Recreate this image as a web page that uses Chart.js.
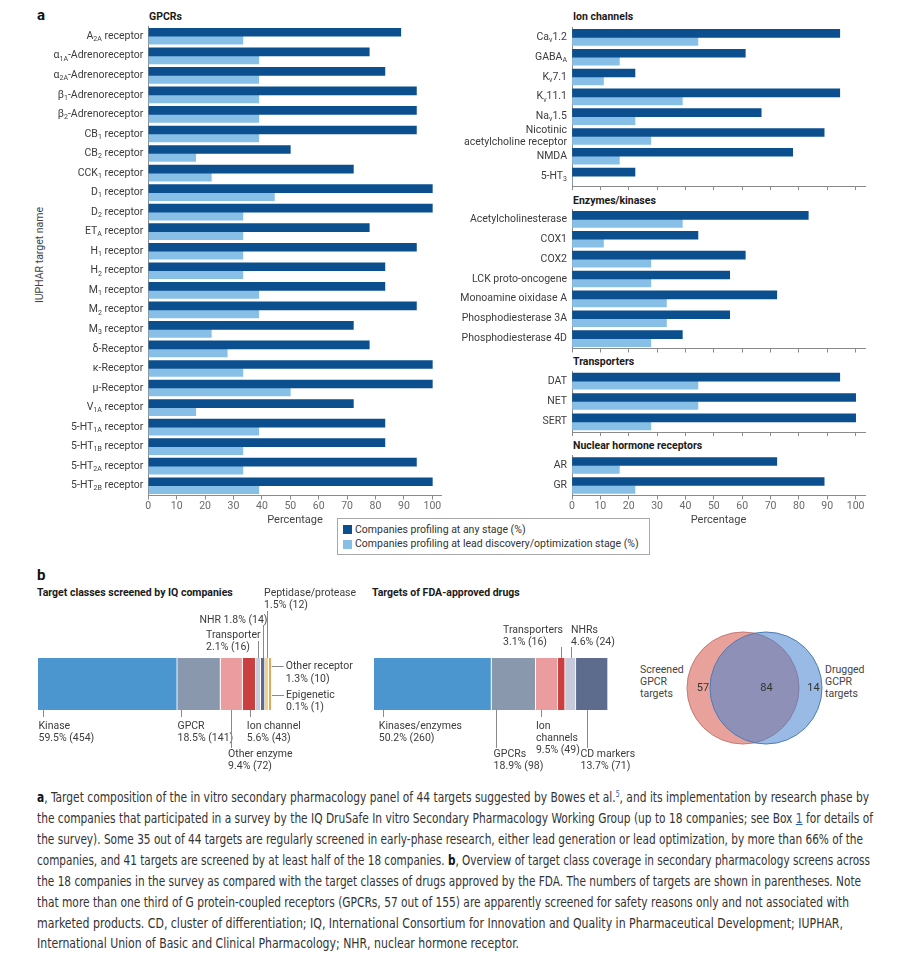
<!DOCTYPE html>
<html>
<head>
<meta charset="utf-8">
<script src="https://cdn.jsdelivr.net/npm/chart.js@4.4.0/dist/chart.umd.min.js"></script>
<style>
body { margin: 0; background: #fff; width: 911px; height: 959px; position: relative; overflow: hidden; font-family: Roboto, 'Liberation Sans', sans-serif; color: #333; }
canvas { position: absolute; }
.t { position: absolute; white-space: nowrap; font-size: 10.5px; line-height: 12px; color: #444; }
.h { position: absolute; white-space: nowrap; font-size: 10.5px; line-height: 12px; font-weight: 700; color: #1a1a1a; }
.big { position: absolute; font-size: 15px; line-height: 16px; font-weight: 700; color: #111; }
.legend { position: absolute; left: 337px; top: 518px; width: 313px; height: 37px; box-sizing: border-box; border: 1px solid #a8a8a8; }
.sw { position: absolute; width: 9px; height: 9px; }
.cap { position: absolute; left: 37px; white-space: nowrap; font-family: 'Liberation Sans Narrow', 'DejaVu Sans Condensed', 'Roboto Condensed', sans-serif; font-stretch: condensed; font-size: 14px; line-height: 16px; color: #333; transform-origin: 0 50%; }
.cap b { color: #111; }
.cap .lnk { color: #2a5db0; }
.cap .sup { position: relative; top: -5px; font-size: 8px; line-height: 0; }
</style>
</head>
<body>

<div class="big" style="left:37px;top:7px">a</div>
<div class="h" style="left:149px;top:11px">GPCRs</div>
<div class="h" style="left:573px;top:11px">Ion channels</div>
<div class="h" style="left:573px;top:195px">Enzymes/kinases</div>
<div class="h" style="left:573px;top:356px">Transporters</div>
<div class="h" style="left:573px;top:440px">Nuclear hormone receptors</div>
<div class="t" style="left:40px;top:255px;transform:translate(-50%,-50%) rotate(-90deg)">IUPHAR target name</div>
<div class="legend" id="legend"></div>

<div class="big" style="left:37px;top:567px">b</div>
<div class="h" style="left:37px;top:587px">Target classes screened by IQ companies</div>
<div class="h" style="left:372px;top:587px">Targets of FDA-approved drugs</div>
<div class="t" style="left:640px;top:664px;line-height:12px">Screened<br>GPCR<br>targets</div>
<div class="t" style="left:825px;top:664px;line-height:12px">Drugged<br>GCPR<br>targets</div>

<div class="cap" data-w="832" style="top:789px"><b>a</b>, Target composition of the in vitro secondary pharmacology panel of 44 targets suggested by Bowes et al.<span class="lnk sup">5</span>, and its implementation by research phase by</div>
<div class="cap" data-w="836" style="top:810px">the companies that participated in a survey by the IQ DruSafe In vitro Secondary Pharmacology Working Group (up to 18 companies; see Box <u class="lnk">1</u> for details of</div>
<div class="cap" data-w="826" style="top:831px">the survey). Some 35 out of 44 targets are regularly screened in early-phase research, either lead generation or lead optimization, by more than 66% of the</div>
<div class="cap" data-w="833" style="top:852px">companies, and 41 targets are screened by at least half of the 18 companies. <b>b</b>, Overview of target class coverage in secondary pharmacology screens across</div>
<div class="cap" data-w="824" style="top:873px">the 18 companies in the survey as compared with the target classes of drugs approved by the FDA. The numbers of targets are shown in parentheses. Note</div>
<div class="cap" data-w="812" style="top:894px">that more than one third of G protein-coupled receptors (GPCRs, 57 out of 155) are apparently screened for safety reasons only and not associated with</div>
<div class="cap" data-w="806" style="top:915px">marketed products. CD, cluster of differentiation; IQ, International Consortium for Innovation and Quality in Pharmaceutical Development; IUPHAR,</div>
<div class="cap" data-w="482" style="top:935px">International Union of Basic and Clinical Pharmacology; NHR, nuclear hormone receptor.</div>

<script>
Chart.defaults.font.family = 'Roboto';

// ---- panel a data (percent of 18 companies) ----
const seriesNames = ['Companies profiling at any stage (%)', 'Companies profiling at lead discovery/optimization stage (%)'];

const gpcrTargets = ['A_{2A} receptor', 'α_{1A}-Adrenoreceptor', 'α_{2A}-Adrenoreceptor', 'β_{1}-Adrenoreceptor', 'β_{2}-Adrenoreceptor',
  'CB_{1} receptor', 'CB_{2} receptor', 'CCK_{1} receptor', 'D_{1} receptor', 'D_{2} receptor', 'ET_{A} receptor', 'H_{1} receptor',
  'H_{2} receptor', 'M_{1} receptor', 'M_{2} receptor', 'M_{3} receptor', 'δ-Receptor', 'κ-Receptor', 'μ-Receptor', 'V_{1A} receptor',
  '5-HT_{1A} receptor', '5-HT_{1B} receptor', '5-HT_{2A} receptor', '5-HT_{2B} receptor'];
const gpcrAny  = [88.9, 77.8, 83.3, 94.4, 94.4, 94.4, 50, 72.2, 100, 100, 77.8, 94.4, 83.3, 83.3, 94.4, 72.2, 77.8, 100, 100, 72.2, 83.3, 83.3, 94.4, 100];
const gpcrLead = [33.3, 38.9, 38.9, 38.9, 38.9, 38.9, 16.7, 22.2, 44.4, 33.3, 33.3, 33.3, 33.3, 38.9, 38.9, 22.2, 27.8, 33.3, 50, 16.7, 38.9, 33.3, 33.3, 38.9];

const ionTargets = ['Ca_{v}1.2', 'GABA_{A}', 'K_{v}7.1', 'K_{v}11.1', 'Na_{v}1.5', 'Nicotinic\nacetylcholine receptor', 'NMDA', '5-HT_{3}'];
const ionAny  = [94.4, 61.1, 22.2, 94.4, 66.7, 88.9, 77.8, 22.2];
const ionLead = [44.4, 16.7, 11.1, 38.9, 22.2, 27.8, 16.7, 0];

const enzTargets = ['Acetylcholinesterase', 'COX1', 'COX2', 'LCK proto-oncogene', 'Monoamine oixidase A', 'Phosphodiesterase 3A', 'Phosphodiesterase 4D'];
const enzAny  = [83.3, 44.4, 61.1, 55.6, 72.2, 55.6, 38.9];
const enzLead = [38.9, 11.1, 27.8, 27.8, 33.3, 33.3, 27.8];

const trTargets = ['DAT', 'NET', 'SERT'];
const trAny  = [94.4, 100, 100];
const trLead = [44.4, 44.4, 27.8];

const nhrTargets = ['AR', 'GR'];
const nhrAny  = [72.2, 88.9];
const nhrLead = [16.7, 22.2];

const pctTicks = [0, 10, 20, 30, 40, 50, 60, 70, 80, 90, 100];

// ---- panel b data ----
const iqClasses = ['Kinase', 'GPCR', 'Other enzyme', 'Ion channel', 'Transporter', 'NHR', 'Peptidase/protease', 'Other receptor', 'Epigenetic'];
const iqCounts  = [454, 141, 72, 43, 16, 14, 12, 10, 1];
const iqPct     = [59.5, 18.5, 9.4, 5.6, 2.1, 1.8, 1.5, 1.3, 0.1];

const fdaClasses = ['Kinases/enzymes', 'GPCRs', 'Ion channels', 'Transporters', 'NHRs', 'CD markers'];
const fdaCounts  = [260, 98, 49, 16, 24, 71];
const fdaPct     = [50.2, 18.9, 9.5, 3.1, 4.6, 13.7];

const vennCounts = [57, 84, 14]; // screened only, both, drugged only

// ---- styles ----
const darkBlue = '#0b4f8f', lightBlue = '#87bfe7', axisGrey = '#8a8a8a';
const iqColors  = ['#4c96cf', '#8a98ae', '#ea9c9e', '#c9403f', '#c6cadb', '#5d6b8c', '#f3d27c', '#e4a95e', '#b5743e'];
const fdaColors = ['#4c96cf', '#8a98ae', '#ea9c9e', '#c9403f', '#c6cadb', '#5d6b8c'];

function addCanvas(b) {
    const c = document.createElement('canvas');
    c.width = b.w; c.height = b.h;
    c.style.left = b.x + 'px'; c.style.top = b.y + 'px';
    c.style.width = b.w + 'px'; c.style.height = b.h + 'px';
    document.body.appendChild(c);
    return c;
}

// text with _{sub} markup, right aligned at xr
function drawRich(ctx, text, xr, y) {
    const parts = text.split(/(_\{[^}]*\})/).filter(s => s.length).map(s =>
        s.startsWith('_{') ? { t: s.slice(2, -1), sub: true } : { t: s, sub: false });
    const fMain = '10.5px Roboto', fSub = '7px Roboto';
    let w = 0;
    parts.forEach(p => { ctx.font = p.sub ? fSub : fMain; p.w = ctx.measureText(p.t).width; w += p.w; });
    let x = xr - w;
    ctx.textAlign = 'left';
    ctx.textBaseline = 'middle';
    parts.forEach(p => {
        ctx.font = p.sub ? fSub : fMain;
        ctx.fillText(p.t, x, p.sub ? y + 3 : y);
        x += p.w;
    });
}

const yLabels = {
    id: 'yLabels',
    afterDraw(chart) {
        const { ctx, chartArea } = chart;
        const ys = chart.scales.y;
        ctx.save();
        ctx.fillStyle = '#3c3c3c';
        chart.data.labels.forEach((lab, i) => {
            const yc = ys.getPixelForValue(i);
            const lines = lab.split('\n');
            lines.forEach((ln, k) => drawRich(ctx, ln, chartArea.left - 5, yc + (k - (lines.length - 1) / 2) * 12));
        });
        ctx.restore();
    }
};

function barPanel(box, area, cats, anyVals, leadVals, withTicks) {
    const c = addCanvas(box);
    return new Chart(c, {
        type: 'bar',
        data: {
            labels: cats,
            datasets: [
                { label: seriesNames[0], data: anyVals, backgroundColor: darkBlue, barThickness: 8 },
                { label: seriesNames[1], data: leadVals, backgroundColor: lightBlue, barThickness: 8 }
            ]
        },
        options: {
            indexAxis: 'y',
            responsive: false,
            animation: false,
            layout: { autoPadding: false, padding: { left: area.l - box.x, right: box.x + box.w - area.r, top: area.t - box.y, bottom: 0 } },
            plugins: { legend: { display: false }, tooltip: { enabled: false } },
            scales: {
                x: {
                    min: 0, max: 103.3,
                    afterBuildTicks: a => { a.ticks = pctTicks.map(v => ({ value: v })); },
                    afterFit: s => { s.height = box.y + box.h - area.b; },
                    ticks: { display: withTicks, padding: 1, color: '#6a6a6a', font: { size: 10.5 } },
                    grid: { drawOnChartArea: false, drawTicks: true, tickLength: 4, color: axisGrey },
                    border: { color: axisGrey },
                    title: { display: withTicks, text: 'Percentage', color: '#444', font: { size: 11 }, padding: { top: 0, bottom: 3 } }
                },
                y: {
                    afterFit: s => { s.width = 0; },
                    ticks: { display: false },
                    grid: { display: false },
                    border: { color: axisGrey }
                }
            }
        },
        plugins: [yLabels]
    });
}

barPanel({ x: 0, y: 0, w: 450, h: 530 }, { l: 148.3, r: 441.7, t: 26.5, b: 495.5 }, gpcrTargets, gpcrAny, gpcrLead, true);
barPanel({ x: 450, y: 20, w: 461, h: 172 }, { l: 572, r: 865, t: 27.5, b: 186 }, ionTargets, ionAny, ionLead, false);
barPanel({ x: 450, y: 205, w: 461, h: 150 }, { l: 572, r: 865, t: 209.5, b: 348.5 }, enzTargets, enzAny, enzLead, false);
barPanel({ x: 450, y: 366, w: 461, h: 72 }, { l: 572, r: 865, t: 371, b: 432 }, trTargets, trAny, trLead, false);
barPanel({ x: 450, y: 450, w: 461, h: 80 }, { l: 572, r: 865, t: 455.5, b: 495.5 }, nhrTargets, nhrAny, nhrLead, true);

// legend built from the series
const lg = document.getElementById('legend');
[darkBlue, lightBlue].forEach((col, i) => {
    const sw = document.createElement('div');
    sw.className = 'sw';
    sw.style.cssText = `left:5px;top:${6 + i * 15}px;background:${col}`;
    lg.appendChild(sw);
    const tx = document.createElement('div');
    tx.className = 't';
    tx.style.cssText = `left:17px;top:${5 + i * 13.5}px;color:#333`;
    tx.textContent = seriesNames[i];
    lg.appendChild(tx);
});

// ---- stacked bars with call-out labels ----
// leader: dx from segment start ('c' = centre), y1/y2 relative to bar top; text: dx from leader, ty = first line centre
const iqNotes = [
    { seg: 0, dx: 4.7, y1: 52, y2: 59, tdx: -5, ty: 68, form: 2 },
    { seg: 1, dx: 3.5, y1: 52, y2: 59, tdx: -4, ty: 68, form: 2 },
    { seg: 2, dx: 10.3, y1: 52, y2: 90, tdx: -3.4, ty: 96, form: 2 },
    { seg: 3, dx: 7.2, y1: 52, y2: 59, tdx: -3.7, ty: 68, form: 2 },
    { seg: 4, dx: 'c', y1: -17, y2: 0, tdx: -52.4, ty: -23, form: 2 },
    { seg: 5, dx: 'c', y1: -33, y2: 0, tdx: -64, ty: -38, form: 1 },
    { seg: 6, dx: 'c', y1: -47, y2: 0, tdx: -3.4, ty: -64.5, form: 2 },
    { seg: 7, side: 'right', y: 8, tx: 14, ty: 8.7, form: 2 },
    { seg: 8, side: 'right', y: 37, tx: 14, ty: 37, form: 2 }
];
const fdaNotes = [
    { seg: 0, dx: 9, y1: 52, y2: 59, tdx: -4.7, ty: 68, form: 2 },
    { seg: 1, dx: 4.2, y1: 52, y2: 90, tdx: -2.9, ty: 96, form: 2 },
    { seg: 2, dx: 5, y1: 52, y2: 59, tdx: -5.6, ty: 68, form: 3 },
    { seg: 3, dx: 'c', y1: -11, y2: 0, tdx: -58.4, ty: -28, form: 2 },
    { seg: 4, dx: 'c', y1: -11, y2: 0, tdx: -0.5, ty: -28, form: 2 },
    { seg: 5, dx: 11, y1: 52, y2: 90, tdx: -7, ty: 96, form: 2 }
];

const callouts = {
    id: 'callouts',
    afterDraw(chart, args, opts) {
        const { ctx, chartArea } = chart;
        const xs = chart.scales.x;
        const counts = chart.data.datasets.map(d => d.data[0]);
        const top = chartArea.top;
        ctx.save();
        ctx.strokeStyle = '#8a8a8a';
        ctx.lineWidth = 1;
        ctx.fillStyle = '#3c3c3c';
        ctx.font = '10.5px Roboto';
        ctx.textBaseline = 'middle';
        ctx.textAlign = 'left';
        opts.notes.forEach(n => {
            let cum = 0;
            for (let i = 0; i < n.seg; i++) cum += counts[i];
            const x0 = xs.getPixelForValue(cum), x1 = xs.getPixelForValue(cum + counts[n.seg]);
            const name = chart.data.datasets[n.seg].label;
            const val = `${opts.pct[n.seg]}% (${counts[n.seg]})`;
            let lines = n.form === 1 ? [name + ' ' + val] : [name, val];
            if (n.form === 3) lines = name.split(' ').concat([val]);
            let tx, ty;
            ctx.beginPath();
            if (n.side === 'right') {
                ctx.moveTo(x1, top + n.y + 0.5);
                ctx.lineTo(x1 + n.tx - 2, top + n.y + 0.5);
                tx = x1 + n.tx; ty = top + n.ty;
            } else {
                const lx = Math.round(n.dx === 'c' ? (x0 + x1) / 2 : x0 + n.dx) + 0.5;
                ctx.moveTo(lx, top + n.y1);
                ctx.lineTo(lx, top + n.y2);
                tx = lx + n.tdx; ty = top + n.ty;
            }
            ctx.stroke();
            lines.forEach((ln, k) => ctx.fillText(ln, tx, ty + k * 12.3));
        });
        ctx.restore();
    }
};

function stackBar(box, area, classes, counts, pct, colors, notes) {
    const c = addCanvas(box);
    return new Chart(c, {
        type: 'bar',
        data: {
            labels: [''],
            datasets: classes.map((n, i) => ({
                label: n, data: [counts[i]], backgroundColor: colors[i],
                borderColor: '#fff', borderWidth: { right: 1 }, borderSkipped: false
            }))
        },
        options: {
            indexAxis: 'y',
            responsive: false,
            animation: false,
            layout: { autoPadding: false, padding: { left: area.l - box.x, right: box.x + box.w - area.r, top: area.t - box.y, bottom: box.y + box.h - area.b } },
            datasets: { bar: { barPercentage: 1, categoryPercentage: 1 } },
            plugins: { legend: { display: false }, tooltip: { enabled: false }, callouts: { notes: notes, pct: pct } },
            scales: {
                x: { display: false, stacked: true, min: 0, max: counts.reduce((a, b) => a + b, 0) },
                y: { display: false, stacked: true }
            }
        },
        plugins: [callouts]
    });
}

stackBar({ x: 0, y: 580, w: 365, h: 195 }, { l: 38, r: 272, t: 658, b: 710 }, iqClasses, iqCounts, iqPct, iqColors, iqNotes);
stackBar({ x: 365, y: 580, w: 285, h: 195 }, { l: 374, r: 608, t: 658, b: 710 }, fdaClasses, fdaCounts, fdaPct, fdaColors, fdaNotes);

// ---- Venn of GPCR targets ----
const vennCircles = [
    { x: -7, y: 0, r: 56 },   // screened
    { x: 16, y: 0, r: 56 }    // drugged
];
const vennTextX = [-47, 16.5, 63.5];

const vennText = {
    id: 'vennText',
    afterDraw(chart) {
        const { ctx } = chart;
        const xs = chart.scales.x, ys = chart.scales.y;
        ctx.save();
        ctx.fillStyle = '#333';
        ctx.font = '11px Roboto';
        ctx.textAlign = 'center';
        ctx.textBaseline = 'middle';
        vennCounts.forEach((v, i) => ctx.fillText(String(v), xs.getPixelForValue(vennTextX[i]), ys.getPixelForValue(0)));
        ctx.restore();
    }
};

new Chart(addCanvas({ x: 620, y: 620, w: 260, h: 136 }), {
    type: 'bubble',
    data: {
        datasets: [
            { label: 'Screened GPCR targets', data: [vennCircles[0]], backgroundColor: '#e8a29b', borderColor: '#c47a74', borderWidth: 1, order: 1 },
            { label: 'Drugged GCPR targets', data: [vennCircles[1]], backgroundColor: 'rgba(70,130,205,0.55)', borderColor: '#4d7db5', borderWidth: 1, order: 0 }
        ]
    },
    options: {
        responsive: false,
        animation: false,
        layout: { autoPadding: false, padding: 0 },
        plugins: { legend: { display: false }, tooltip: { enabled: false } },
        scales: {
            x: { display: false, min: -130, max: 130 },
            y: { display: false, min: -68, max: 68 }
        }
    },
    plugins: [vennText]
});

// ---- fit caption lines to the reference widths ----
document.fonts.ready.then(() => {
    document.querySelectorAll('.cap').forEach(el => {
        const w = el.getBoundingClientRect().width;
        el.style.transform = `scaleX(${(+el.dataset.w / w).toFixed(4)})`;
    });
});
</script>
</body>
</html>
